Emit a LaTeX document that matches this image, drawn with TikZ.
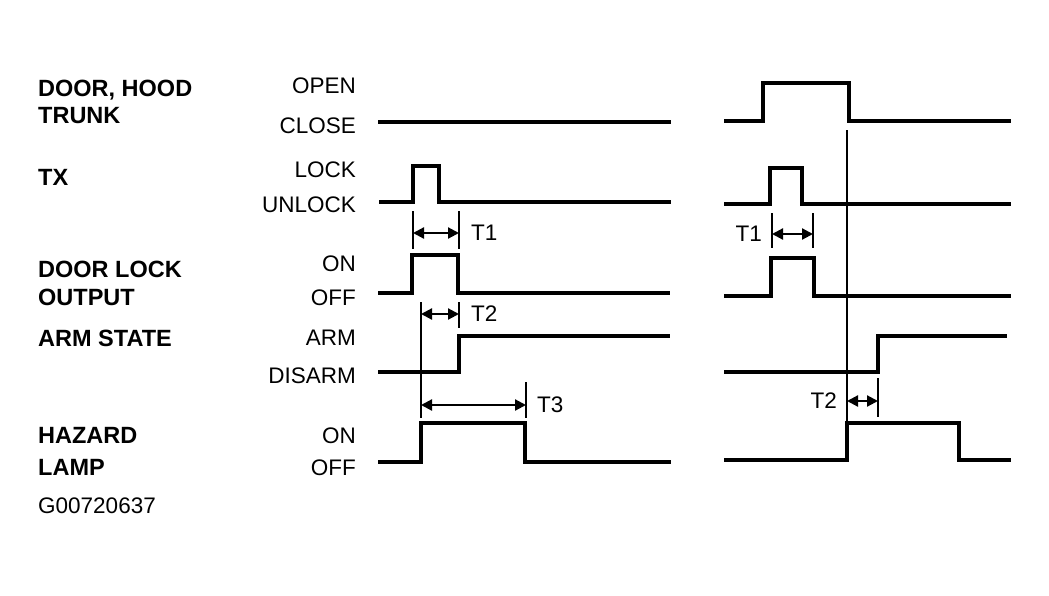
\documentclass[tikz,border=0pt]{standalone}
\usepackage{fontspec}
\setmainfont{Liberation Sans}
\usetikzlibrary{arrows.meta}
\begin{document}
\begin{tikzpicture}[x=1pt,y=-1pt,
    sig/.style={line width=3.2pt,line join=miter},
    tick/.style={line width=1.4pt},
    span/.style={line width=2.2pt,{Triangle[length=11pt,width=11pt]}-{Triangle[length=11pt,width=11pt]}},
    every node/.style={inner sep=0pt,font=\fontsize{22.5}{24}\selectfont}]
    \useasboundingbox(0,0)rectangle(1049,595);
    % signal names
    \foreach \y/\name/\txt in {96/door/{DOOR, HOOD},123/trunk/TRUNK,185/tx/TX,277/lock/DOOR LOCK,305/output/OUTPUT,346/arm/ARM STATE,443/hazard/HAZARD,475/lamp/LAMP}{
        \node[anchor=base west,font=\fontsize{23.5}{24}\selectfont\bfseries](\name)at(38,\y){\txt};
    }
    \node[anchor=base west](code)at(38,513){G00720637};
    % levels
    \foreach \y/\name/\txt in {93/open/OPEN,133/close/CLOSE,177/lk/LOCK,212/unlk/UNLOCK,271/on1/ON,305/off1/OFF,345/armd/ARM,383/disarm/DISARM,443/on2/ON,475/off2/OFF}{
        \node[anchor=base east](\name)at(356,\y){\txt};
    }
    % left case
    \draw[sig](378,122)--(671,122);
    \draw[sig](379,202)--(413,202)--(413,166)--(439,166)--(439,202)--(671,202);
    \draw[sig](378,293)--(412,293)--(412,255)--(458,255)--(458,293)--(670,293);
    \draw[sig](378,372)--(459,372)--(459,336)--(670,336);
    \draw[sig](378,462)--(421,462)--(421,423)--(525,423)--(525,462)--(671,462);
    \draw[tick](413,211)--(413,249);
    \draw[tick](459,211)--(459,249);
    \draw[span](413,233)--(459,233)node[right=11pt,anchor=west]{T1};
    \draw[tick](421,302)--(421,418);
    \draw[tick](459,302)--(459,328);
    \draw[span](421,314)--(459,314)node[right=11pt,anchor=west]{T2};
    \draw[tick](526,382)--(526,418);
    \draw[span](421,405)--(526,405)node[right=10pt,anchor=west]{T3};
    % right case
    \draw[sig](724,121)--(763,121)--(763,83)--(849,83)--(849,121)--(1011,121);
    \draw[sig](724,204)--(770,204)--(770,168)--(802,168)--(802,204)--(1011,204);
    \draw[sig](724,296)--(771,296)--(771,258)--(814,258)--(814,296)--(1011,296);
    \draw[sig](724,372)--(878,372)--(878,336)--(1007,336);
    \draw[sig](724,460)--(847,460)--(847,423)--(959,423)--(959,460)--(1011,460);
    \draw[tick](847,130)--(847,423);
    \draw[tick](772,213)--(772,248);
    \draw[tick](813,213)--(813,248);
    \draw[span](772,234)--(813,234)node[pos=0,left=9pt,anchor=east]{T1};
    \draw[tick](878,378)--(878,417);
    \draw[span](847,401)--(878,401)node[pos=0,left=9pt,anchor=east]{T2};
\end{tikzpicture}
\end{document}
